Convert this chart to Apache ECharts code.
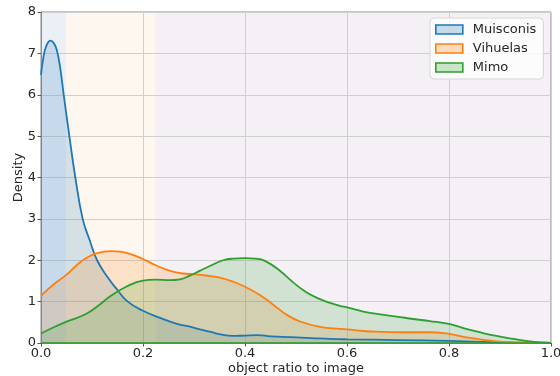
<!DOCTYPE html>
<html>
<head>
<meta charset="utf-8">
<script src="https://cdn.jsdelivr.net/npm/echarts@6/dist/echarts.min.js"></script>
<style>
  html, body { margin: 0; padding: 0; background: #ffffff; }
  #chart { width: 560px; height: 376px; }
</style>
</head>
<body>
<div id="chart"></div>
<script>
// Kernel density estimates of object-to-image ratio per collection: [ratio, density]
const seriesNames = ['Muisconis', 'Vihuelas', 'Mimo'];

const muisconis = [
  [0, 6.48], [0.005, 6.92], [0.011, 7.2], [0.019, 7.31], [0.025, 7.25], [0.031, 7.08],
  [0.038, 6.62], [0.0445, 6.0], [0.0556, 5.0], [0.0673, 4.0], [0.0817, 3.0], [0.095, 2.5],
  [0.11, 2.0], [0.13, 1.6], [0.15, 1.28], [0.17, 1.0], [0.2, 0.78], [0.235, 0.6],
  [0.265, 0.47], [0.29, 0.4], [0.312, 0.33], [0.335, 0.26], [0.355, 0.2], [0.375, 0.17],
  [0.4, 0.18], [0.425, 0.19], [0.45, 0.16], [0.49, 0.14], [0.53, 0.12], [0.567, 0.1],
  [0.6, 0.09], [0.7, 0.07], [0.8, 0.05], [0.86, 0.025], [0.93, 0.01], [1.0, 0.0]
];

const vihuelas = [
  [0, 1.14], [0.025, 1.42], [0.049, 1.64], [0.07, 1.88], [0.088, 2.05], [0.11, 2.17],
  [0.137, 2.22], [0.155, 2.21], [0.173, 2.16], [0.2, 2.03], [0.225, 1.88], [0.252, 1.75],
  [0.278, 1.68], [0.304, 1.66], [0.33, 1.62], [0.351, 1.58], [0.377, 1.48], [0.4, 1.36],
  [0.429, 1.16], [0.456, 0.92], [0.482, 0.68], [0.508, 0.52], [0.547, 0.39], [0.586, 0.34],
  [0.6, 0.33], [0.632, 0.29], [0.665, 0.27], [0.7, 0.26], [0.76, 0.26], [0.8, 0.22],
  [0.828, 0.15], [0.86, 0.09], [0.893, 0.04], [0.926, 0.015], [0.96, 0.005], [1.0, 0.0]
];

const mimo = [
  [0, 0.23], [0.025, 0.38], [0.049, 0.51], [0.088, 0.7], [0.114, 0.92], [0.137, 1.14],
  [0.167, 1.36], [0.2, 1.51], [0.225, 1.53], [0.252, 1.52], [0.2725, 1.54], [0.292, 1.63],
  [0.312, 1.75], [0.331, 1.86], [0.357, 2.0], [0.377, 2.04], [0.4, 2.05], [0.42, 2.04],
  [0.44, 1.98], [0.469, 1.74], [0.495, 1.46], [0.521, 1.22], [0.547, 1.06], [0.567, 0.97],
  [0.586, 0.9], [0.6, 0.86], [0.632, 0.76], [0.665, 0.69], [0.697, 0.64], [0.73, 0.58],
  [0.762, 0.53], [0.8, 0.46], [0.828, 0.36], [0.86, 0.26], [0.893, 0.17], [0.926, 0.1],
  [0.959, 0.04], [0.985, 0.015], [1.0, 0.0]
];

// Shaded ratio ranges behind the curves
const bandEdges = [0, 0.049, 0.224, 1.0];

const xTickLabels = ['0.0', '0.2', '0.4', '0.6', '0.8', '1.0'];
const yTickLabels = ['0', '1', '2', '3', '4', '5', '6', '7', '8'];

const lineColors = ['#1f77b4', '#ff7f0e', '#2ca02c'];
const fillColors = ['rgba(31,119,180,0.25)', 'rgba(255,127,14,0.25)', 'rgba(44,160,44,0.25)'];
const bandColors = ['#ebf0f7', '#fdf7ef', '#f4f0f6'];

const seriesData = [muisconis, vihuelas, mimo];
const font = 'DejaVu Sans';

const bandAreas = bandColors.map((c, i) => [
  { xAxis: bandEdges[i], itemStyle: { color: c } },
  { xAxis: bandEdges[i + 1] }
]);

const series = seriesNames.map((name, i) => {
  const s = {
    name: name,
    type: 'line',
    data: seriesData[i],
    smooth: 0.45,
    showSymbol: false,
    sampling: null,
    z: 3,
    lineStyle: { color: lineColors[i], width: 1.8 },
    itemStyle: { color: lineColors[i] },
    areaStyle: { color: fillColors[i] }
  };
  if (i === 0) {
    s.markArea = { silent: true, z: 1, data: bandAreas };
  }
  if (i === seriesNames.length - 1) {
    // fill edge along the zero baseline
    s.markLine = {
      silent: true, symbol: 'none', z: 5,
      label: { show: false },
      lineStyle: { color: lineColors[i], width: 1.6, type: 'solid' },
      data: [{ yAxis: 0 }]
    };
  }
  return s;
});

const chart = echarts.init(document.getElementById('chart'), null, { renderer: 'canvas' });
chart.setOption({
  animation: false,
  backgroundColor: '#ffffff',
  grid: {
    left: 41, right: 9, top: 12, bottom: 33,
    containLabel: false,
    outerBoundsMode: 'none',
    show: true, z: 2,
    backgroundColor: 'transparent',
    borderColor: '#8c8c8c', borderWidth: 1
  },
  legend: {
    data: seriesNames.map((n, i) => ({
      name: n,
      icon: 'rect',
      itemStyle: { color: fillColors[i], borderColor: lineColors[i], borderWidth: 1.6 }
    })),
    orient: 'vertical',
    left: 430, top: 18,
    itemWidth: 27, itemHeight: 9, itemGap: 4,
    padding: [4, 7, 4, 5],
    backgroundColor: 'rgba(255,255,255,0.8)',
    borderColor: '#d6d6d6', borderWidth: 1, borderRadius: 4,
    textStyle: { fontFamily: font, fontSize: 13, color: '#262626', lineHeight: 15, padding: [0, 0, 0, 5] }
  },
  xAxis: {
    type: 'value', min: 0, max: 1, interval: 0.2, z: 2,
    name: 'object ratio to image', nameLocation: 'middle', nameGap: 19,
    nameMoveOverlap: false,
    nameTextStyle: { fontFamily: font, fontSize: 13, color: '#262626' },
    axisLine: { show: true, lineStyle: { color: '#8c8c8c', width: 1 } },
    axisTick: { show: true, length: 3.5, lineStyle: { color: '#555' } },
    axisLabel: {
      fontFamily: font, fontSize: 13, color: '#262626', margin: 4,
      formatter: (v) => xTickLabels[Math.round(v / 0.2)]
    },
    splitLine: { show: true, lineStyle: { color: '#cfcfcf', width: 1 } }
  },
  yAxis: {
    type: 'value', min: 0, max: 8, interval: 1, z: 2,
    name: 'Density', nameLocation: 'middle', nameGap: 16, nameRotate: 90,
    nameMoveOverlap: false,
    nameTextStyle: { fontFamily: font, fontSize: 13, color: '#262626' },
    axisLine: { show: true, lineStyle: { color: '#8c8c8c', width: 1 } },
    axisTick: { show: true, length: 3.5, lineStyle: { color: '#555' } },
    axisLabel: {
      fontFamily: font, fontSize: 13, color: '#262626', margin: 5,
      formatter: (v) => yTickLabels[Math.round(v)]
    },
    splitLine: { show: true, lineStyle: { color: '#cfcfcf', width: 1 } }
  },
  series: series
});
</script>
</body>
</html>
